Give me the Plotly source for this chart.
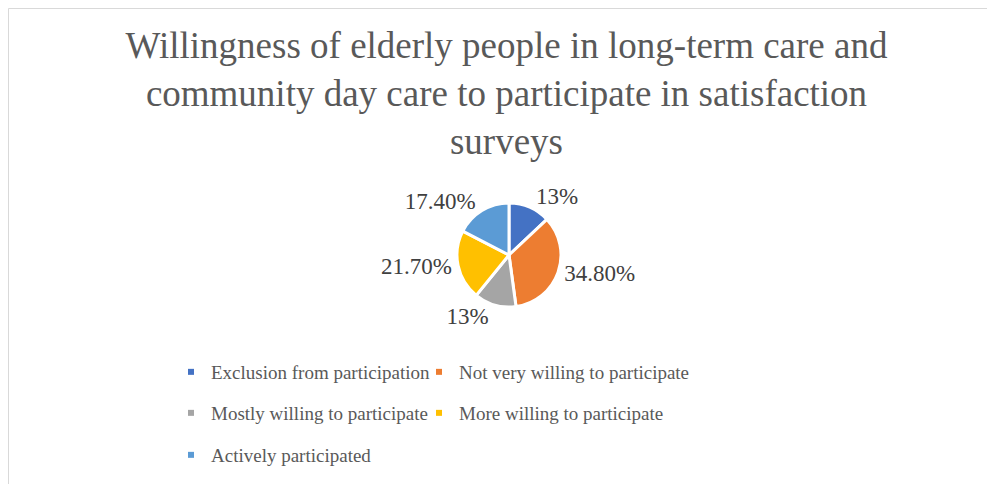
import plotly.graph_objects as go

categories = ["Exclusion from participation", "Not very willing to participate",
              "Mostly willing to participate", "More willing to participate",
              "Actively participated"]
values = [13, 34.8, 13, 21.7, 17.4]
value_labels = ["13%", "34.80%", "13%", "21.70%", "17.40%"]
colors = ["#4472C4", "#ED7D31", "#A5A5A5", "#FFC000", "#5B9BD5"]
title_text = ("Willingness of elderly people in long-term care and<br>"
              "community day care to participate in satisfaction<br>surveys")

SERIF = "Liberation Serif, Times New Roman, serif"
W, H = 995, 484
OFF = 8  # page body margin offset of the figure
cx, cy, r = 509 - OFF, 255 - OFF, 52

# legend grid (page px): text left edges per column, row centres
col_text_x = [211, 459]
row_y = [372, 413, 455]
legend_ids = ["legend", "legend2", "legend3", "legend4", "legend5"]

fig = go.Figure()
fig.add_trace(go.Pie(
    labels=categories, values=values, text=value_labels,
    textinfo="text", textposition="outside",
    sort=False, direction="clockwise", rotation=0,
    marker=dict(colors=colors, line=dict(color="white", width=3)),
    textfont=dict(family=SERIF, size=23, color="#404040"),
    outsidetextfont=dict(family=SERIF, size=23, color="#404040"),
    domain=dict(x=[(cx - r) / W, (cx + r) / W], y=[(H - cy - r) / H, (H - cy + r) / H]),
    showlegend=False, hoverinfo="label+percent",
))

legend_layout = {}
for i, (cat, col, lg) in enumerate(zip(categories, colors, legend_ids)):
    fig.add_trace(go.Scatter(
        x=[None], y=[None], mode="markers", name=cat, legend=lg,
        marker=dict(symbol="square", size=6, color=col),
        showlegend=True,
    ))
    legend_layout[lg] = dict(
        orientation="h", xanchor="left", yanchor="middle",
        x=(col_text_x[i % 2] - OFF - 40) / W, y=1 - (row_y[i // 2] - OFF) / H,
        bgcolor="rgba(0,0,0,0)",
        font=dict(family=SERIF, size=19, color="#595959"))

fig.update_layout(
    width=W, height=H,
    margin=dict(l=0, r=0, t=0, b=0),
    paper_bgcolor="white", plot_bgcolor="white",
    font=dict(family=SERIF, color="#595959"),
    xaxis=dict(visible=False), yaxis=dict(visible=False),
    title=dict(text=title_text, x=(506.5 - OFF) / W, xanchor="center",
               y=1 - (58 - OFF) / H, yanchor="top",
               font=dict(family=SERIF, size=37, color="#595959")),
    shapes=[dict(type="rect", xref="paper", yref="paper",
                 x0=0.5 / W, x1=1.02, y0=-0.02, y1=1 - 0.5 / H,
                 line=dict(color="#D9D9D9", width=1))],
    **legend_layout,
)

fig.write_html("out.html")
